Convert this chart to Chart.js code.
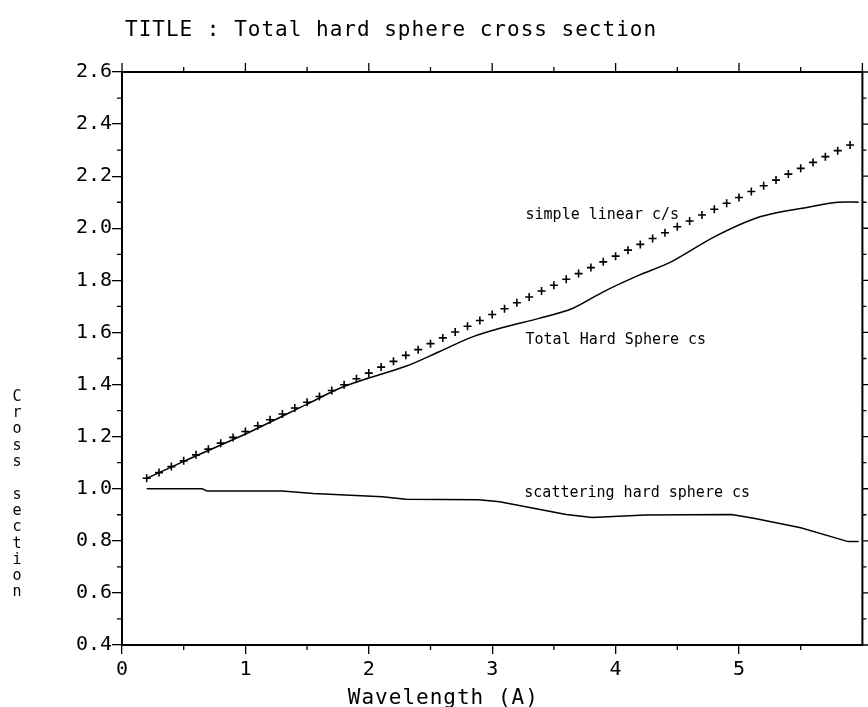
<!DOCTYPE html>
<html>
<head>
<meta charset="utf-8">
<title>Total hard sphere cross section</title>
<script src="https://cdn.jsdelivr.net/npm/chart.js@4.4.1/dist/chart.umd.min.js"></script>
<style>
  html, body { margin: 0; padding: 0; background: #fff; }
  #wrap { width: 868px; height: 707px; }
</style>
</head>
<body>
<div id="wrap"><canvas id="plot" width="868" height="707"></canvas></div>
<script>
// simple linear c/s (plotted as + markers)
var linearX = [0.2, 0.3, 0.4, 0.5, 0.6, 0.7, 0.8, 0.9, 1.0, 1.1, 1.2, 1.3, 1.4, 1.5, 1.6, 1.7, 1.8, 1.9,
               2.0, 2.1, 2.2, 2.3, 2.4, 2.5, 2.6, 2.7, 2.8, 2.9, 3.0, 3.1, 3.2, 3.3, 3.4, 3.5, 3.6, 3.7,
               3.8, 3.9, 4.0, 4.1, 4.2, 4.3, 4.4, 4.5, 4.6, 4.7, 4.8, 4.9, 5.0, 5.1, 5.2, 5.3, 5.4, 5.5,
               5.6, 5.7, 5.8, 5.9];
var linearY = [1.040, 1.062, 1.085, 1.107, 1.130, 1.152, 1.175, 1.197, 1.220, 1.242, 1.265, 1.287,
               1.310, 1.332, 1.354, 1.377, 1.399, 1.422, 1.444, 1.467, 1.489, 1.512, 1.534, 1.557,
               1.579, 1.602, 1.624, 1.646, 1.669, 1.691, 1.714, 1.736, 1.759, 1.781, 1.804, 1.826,
               1.849, 1.871, 1.893, 1.916, 1.938, 1.961, 1.983, 2.006, 2.028, 2.051, 2.073, 2.096,
               2.118, 2.141, 2.163, 2.185, 2.208, 2.230, 2.253, 2.275, 2.298, 2.320];

// Total Hard Sphere cs
var totalX = [0.2, 0.5, 1.0, 1.5, 1.76, 2.0, 2.3, 2.57, 2.84, 3.11, 3.38, 3.65, 3.9, 4.19, 4.45,
              4.8, 5.17, 5.57, 5.8, 5.97];
var totalY = [1.04, 1.105, 1.21, 1.325, 1.385, 1.425, 1.47, 1.526, 1.583, 1.622, 1.654, 1.692,
              1.756, 1.82, 1.871, 1.967, 2.044, 2.082, 2.10, 2.10];

// scattering hard sphere cs
var scatX = [0.2, 0.65, 0.69, 1.3, 1.55, 2.11, 2.3, 2.89, 3.06, 3.6, 3.81, 4.24, 4.94, 5.13, 5.5,
             5.885, 5.97];
var scatY = [1.0, 1.0, 0.991, 0.991, 0.982, 0.969, 0.96, 0.958, 0.95, 0.901, 0.89, 0.899, 0.901,
             0.886, 0.85, 0.797, 0.797];

var xTicks = [0, 1, 2, 3, 4, 5];
var yTicks = [0.4, 0.6, 0.8, 1.0, 1.2, 1.4, 1.6, 1.8, 2.0, 2.2, 2.4, 2.6];

var titleText = 'TITLE : Total hard sphere cross section';
var xTitle = 'Wavelength (A)';
var yTitle = 'Cross section';
var curveLabels = [
  { text: 'simple linear c/s', x: 3.27, y: 2.036 },
  { text: 'Total Hard Sphere cs', x: 3.27, y: 1.557 },
  { text: 'scattering hard sphere cs', x: 3.26, y: 0.969 }
];

var MONO = '"DejaVu Sans Mono", "Liberation Mono", monospace';

function pts(xs, ys) {
  return xs.map(function (x, i) { return { x: x, y: ys[i] }; });
}

// frame, minor ticks and all the loose text
var plotDecor = {
  id: 'plotDecor',
  afterDraw: function (chart) {
    var ctx = chart.ctx, a = chart.chartArea;
    var xs = chart.scales.x, ys = chart.scales.y;
    var k, px, py;
    ctx.save();
    ctx.strokeStyle = '#000';
    ctx.fillStyle = '#000';

    // top and right edges of the box
    ctx.lineWidth = 2;
    ctx.beginPath();
    ctx.moveTo(a.left, a.top);
    ctx.lineTo(a.right, a.top);
    ctx.lineTo(a.right, a.bottom);
    ctx.stroke();

    ctx.lineWidth = 1.3;
    ctx.beginPath();
    // x: half-unit ticks, below and above
    for (k = 0; k <= 12; k++) {
      px = xs.getPixelForValue(k / 2);
      if (k % 2) {
        ctx.moveTo(px, a.bottom); ctx.lineTo(px, a.bottom + 5);
        ctx.moveTo(px, a.top); ctx.lineTo(px, a.top - 5);
      } else {
        ctx.moveTo(px, a.top); ctx.lineTo(px, a.top - 9);
      }
    }
    // y: minor ticks every 0.1 on the left, all ticks on the right
    for (k = 4; k <= 26; k++) {
      py = ys.getPixelForValue(k / 10);
      if (k % 2) {
        ctx.moveTo(a.left, py); ctx.lineTo(a.left - 5, py);
      }
      ctx.moveTo(a.right, py); ctx.lineTo(a.right + (k % 2 ? 4 : 8), py);
    }
    ctx.stroke();

    // title
    ctx.textBaseline = 'middle';
    ctx.textAlign = 'left';
    ctx.font = '21px ' + MONO;
    ctx.letterSpacing = '1px';
    ctx.fillText(titleText, a.left + 3, 31);

    // x axis title
    ctx.fillText(xTitle, xs.getPixelForValue(1.83), 699);
    ctx.letterSpacing = '0px';

    // y axis title, letters stacked upright
    ctx.font = '15px ' + MONO;
    ctx.textAlign = 'center';
    for (k = 0; k < yTitle.length; k++) {
      ctx.fillText(yTitle.charAt(k), 17, 397 + k * 16.3);
    }

    // curve labels
    ctx.textAlign = 'left';
    ctx.textBaseline = 'alphabetic';
    ctx.font = '15px ' + MONO;
    curveLabels.forEach(function (l) {
      ctx.fillText(l.text, xs.getPixelForValue(l.x), ys.getPixelForValue(l.y));
    });
    ctx.restore();
  }
};

var plot = new Chart(document.getElementById('plot'), {
  type: 'scatter',
  data: {
    datasets: [
      {
        label: 'simple linear c/s',
        data: pts(linearX, linearY),
        showLine: false,
        pointStyle: 'cross',
        pointRadius: 4,
        borderColor: '#000',
        borderWidth: 1.6
      },
      {
        label: 'Total Hard Sphere cs',
        data: pts(totalX, totalY),
        showLine: true,
        borderColor: '#000',
        borderWidth: 1.5,
        pointRadius: 0,
        tension: 0.3
      },
      {
        label: 'scattering hard sphere cs',
        data: pts(scatX, scatY),
        showLine: true,
        borderColor: '#000',
        borderWidth: 1.5,
        pointRadius: 0,
        tension: 0
      }
    ]
  },
  options: {
    responsive: false,
    animation: false,
    devicePixelRatio: 1,
    layout: { padding: { top: 72, right: 4, left: 0, bottom: 0 } },
    plugins: {
      legend: { display: false },
      tooltip: { enabled: false },
      title: { display: false }
    },
    scales: {
      x: {
        type: 'linear',
        min: 0,
        max: 6,
        afterBuildTicks: function (axis) {
          axis.ticks = xTicks.map(function (v) { return { value: v }; });
        },
        afterFit: function (axis) { axis.height = 62; },
        grid: { drawOnChartArea: false, tickLength: 9, color: '#000', lineWidth: 1.3 },
        border: { display: true, color: '#000', width: 2 },
        ticks: {
          color: '#000',
          padding: 4,
          maxRotation: 0,
          font: { family: MONO, size: 20 },
          callback: function (v) { return String(v); }
        }
      },
      y: {
        type: 'linear',
        min: 0.4,
        max: 2.6,
        afterBuildTicks: function (axis) {
          axis.ticks = yTicks.map(function (v) { return { value: v }; });
        },
        afterFit: function (axis) { axis.width = 122; },
        grid: { drawOnChartArea: false, tickLength: 10, color: '#000', lineWidth: 1.3 },
        border: { display: true, color: '#000', width: 2 },
        ticks: {
          color: '#000',
          padding: 0,
          font: { family: MONO, size: 20 },
          callback: function (v) { return v.toFixed(1); }
        }
      }
    }
  },
  plugins: [plotDecor]
});
</script>
</body>
</html>
